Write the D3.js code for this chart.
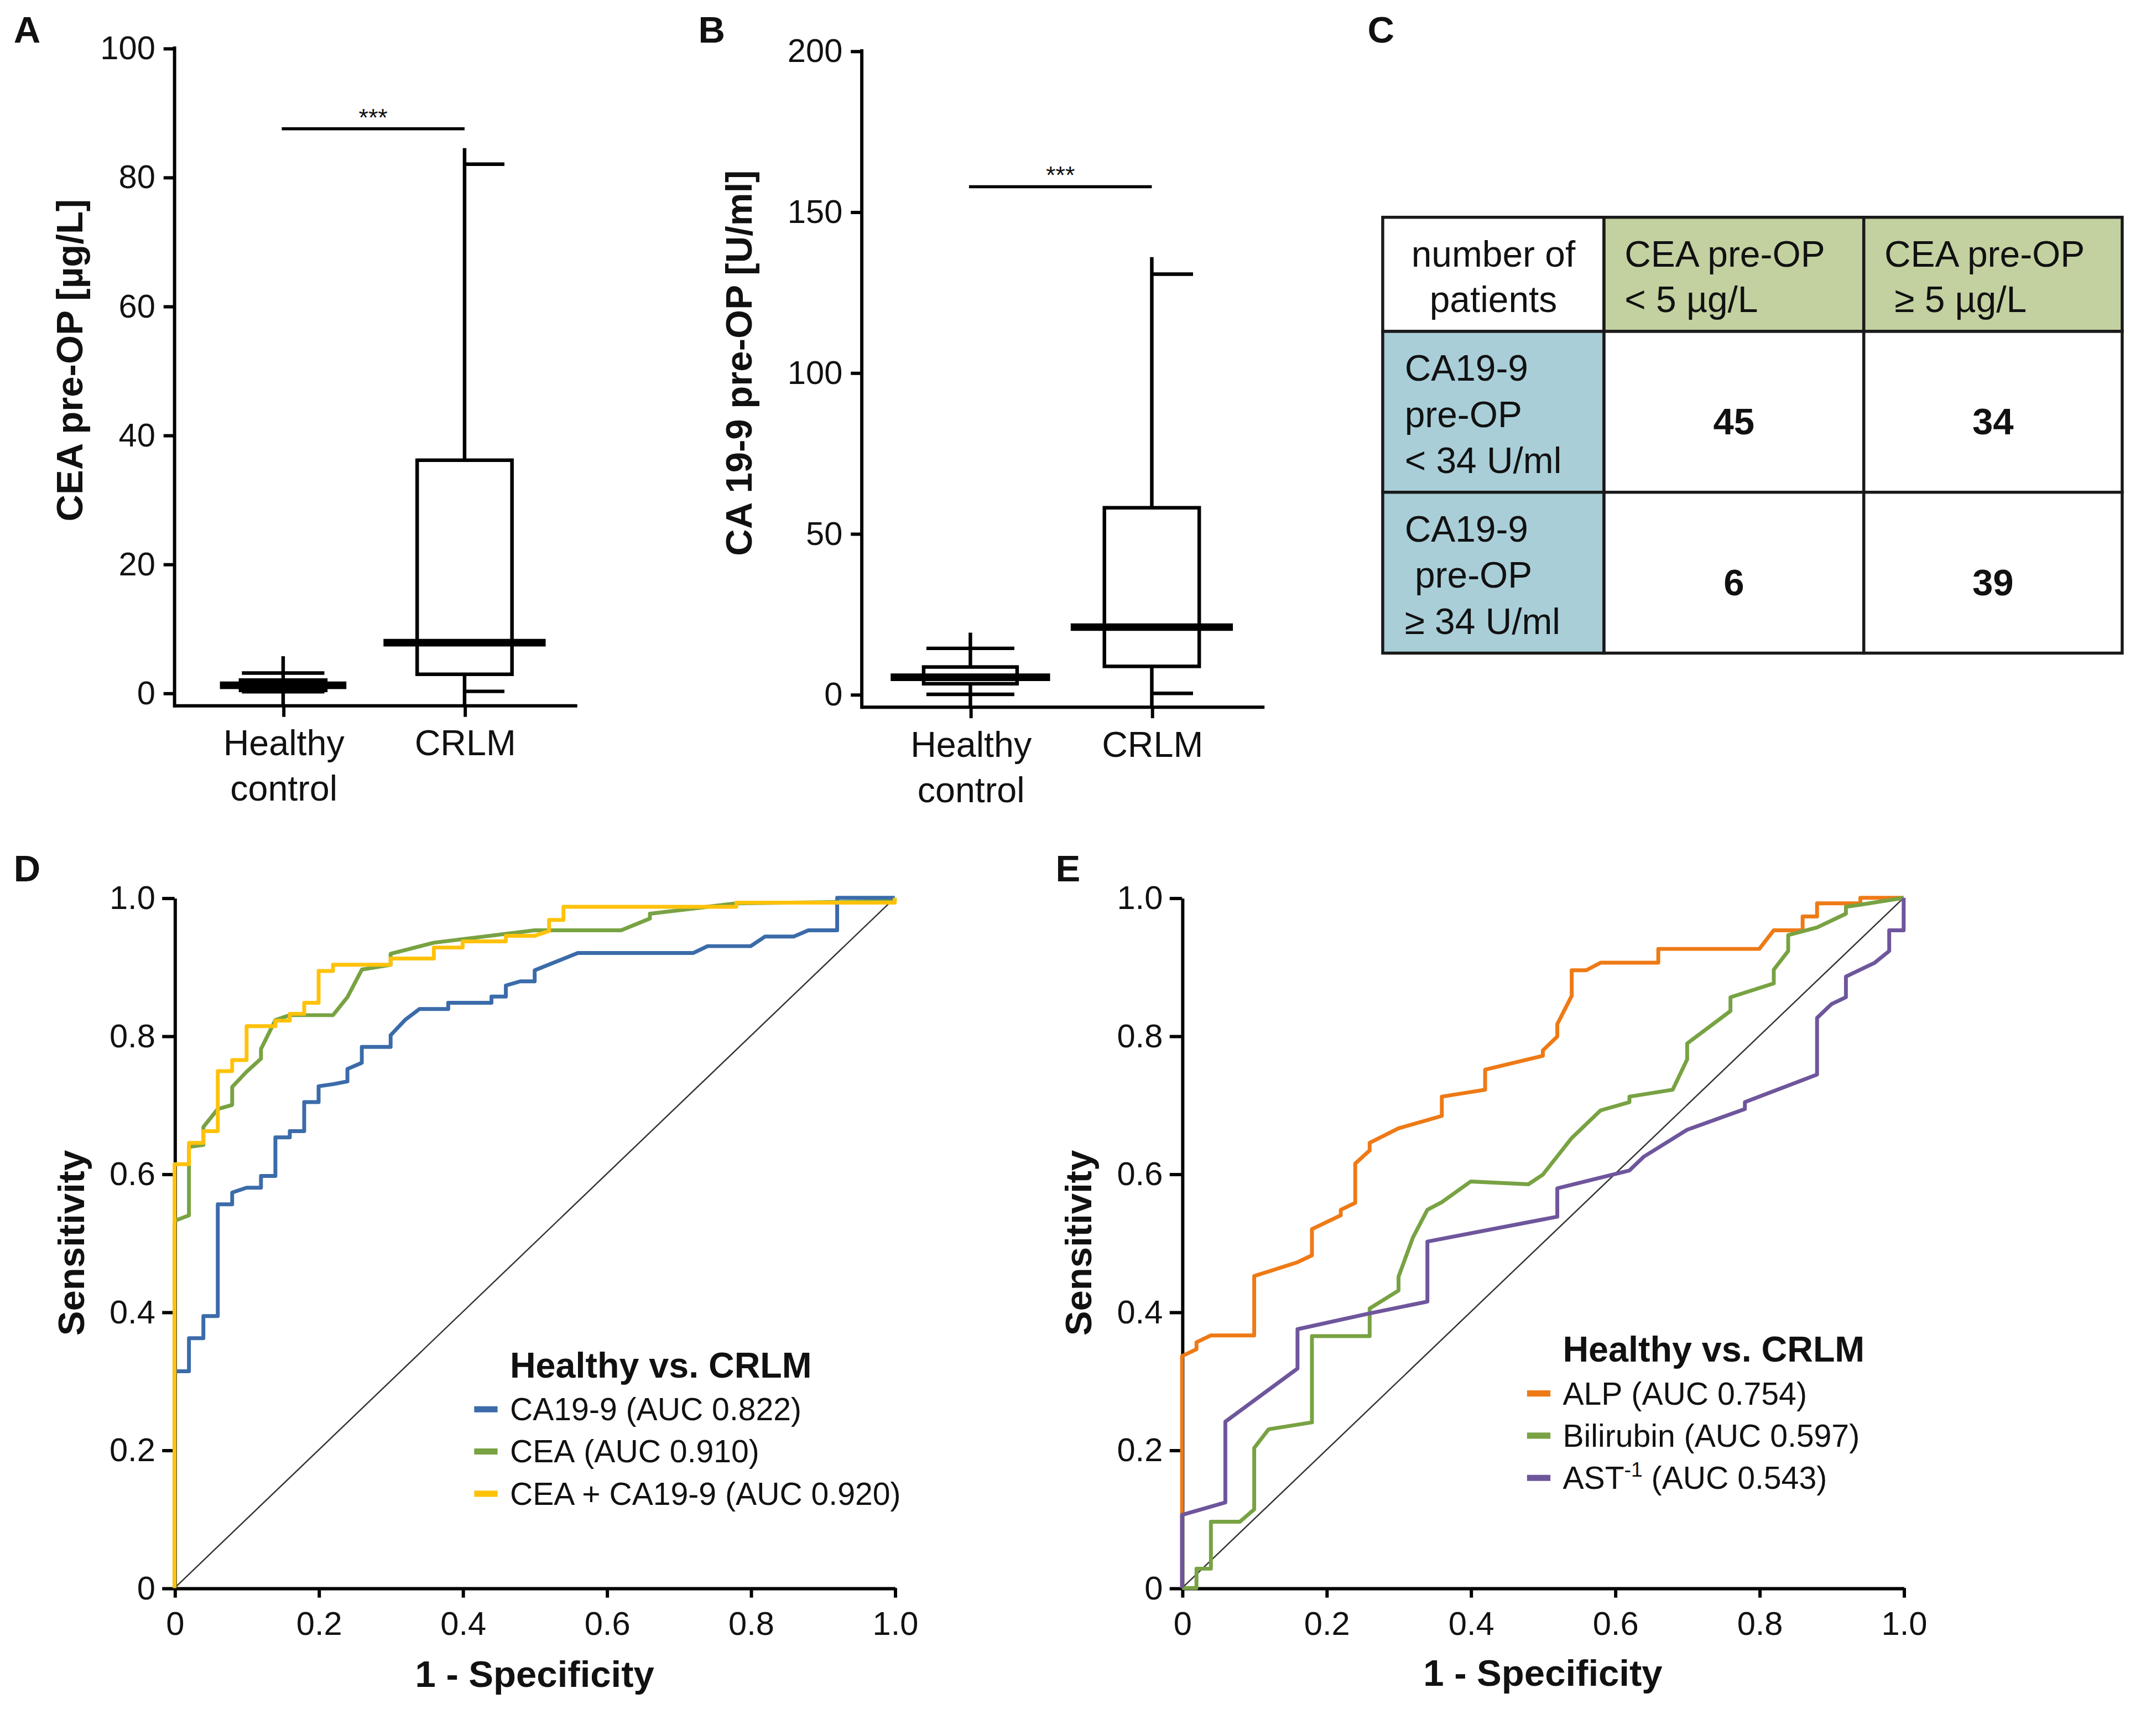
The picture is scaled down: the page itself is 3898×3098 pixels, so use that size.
<!DOCTYPE html>
<html>
<head>
<meta charset="utf-8">
<script src="https://cdn.jsdelivr.net/npm/d3@7"></script>
<style>
  body { margin: 0; background: #fff; }
  text { font-family: 'Liberation Sans', Arial, Helvetica, sans-serif; fill: #111; }
</style>
</head>
<body>
<script>
// ---- data ----
const boxGroups = ['Healthy control', 'CRLM']

// panel A: CEA pre-OP [µg/L]
const ceaMin = [0.2, 0.25]
const ceaQ1 = [0.4, 2.9]
const ceaMedian = [1.2, 7.8]
const ceaQ3 = [2.0, 36.1]
const ceaCap = [3.1, 82]
const ceaTop = [5.7, 84.5]
const ceaSig = 87.5
const ceaTicks = [0, 20, 40, 60, 80, 100]

// panel B: CA 19-9 pre-OP [U/ml]
const caMin = [0, 0.3]
const caQ1 = [3.3, 8.7]
const caMedian = [5.3, 20.9]
const caQ3 = [8.5, 58]
const caCap = [14.3, 130.6]
const caTop = [19.2, 135.9]
const caSig = 157.8
const caTicks = [0, 50, 100, 150, 200]

// panel C: contingency table
const tableColHeaders = [['number of', 'patients'], ['CEA pre-OP', '< 5 µg/L'], ['CEA pre-OP', ' ≥ 5 µg/L']]
const tableRowHeaders = [['CA19-9', 'pre-OP', '< 34 U/ml'], ['CA19-9', ' pre-OP', '≥ 34 U/ml']]
const tableCounts = [[45, 34], [6, 39]]

// panel D: ROC curves (1 - specificity, sensitivity)
const ca199Fpr = [0, 0, 0.02, 0.02, 0.04, 0.04, 0.06, 0.06, 0.08, 0.08, 0.10, 0.12, 0.12, 0.14, 0.14, 0.16, 0.16, 0.18, 0.18, 0.20, 0.20, 0.22, 0.24, 0.24, 0.26, 0.26, 0.30, 0.30, 0.32, 0.34, 0.38, 0.38, 0.44, 0.44, 0.46, 0.46, 0.48, 0.50, 0.50, 0.56, 0.72, 0.74, 0.80, 0.82, 0.86, 0.88, 0.92, 0.92, 1.0]
const ca199Tpr = [0, 0.314, 0.314, 0.362, 0.362, 0.394, 0.394, 0.556, 0.556, 0.573, 0.58, 0.58, 0.597, 0.597, 0.653, 0.653, 0.662, 0.662, 0.704, 0.704, 0.727, 0.73, 0.734, 0.752, 0.761, 0.784, 0.784, 0.801, 0.823, 0.839, 0.839, 0.848, 0.848, 0.857, 0.857, 0.873, 0.879, 0.879, 0.895, 0.92, 0.92, 0.93, 0.93, 0.944, 0.944, 0.953, 0.953, 1.0, 1.0]
const ceaFpr = [0, 0, 0.02, 0.02, 0.04, 0.04, 0.06, 0.08, 0.08, 0.10, 0.12, 0.12, 0.14, 0.16, 0.22, 0.24, 0.26, 0.30, 0.30, 0.36, 0.50, 0.62, 0.66, 0.66, 0.78, 1.0, 1.0]
const ceaTpr = [0, 0.532, 0.54, 0.639, 0.642, 0.668, 0.694, 0.70, 0.726, 0.748, 0.767, 0.781, 0.823, 0.83, 0.83, 0.856, 0.896, 0.903, 0.919, 0.935, 0.953, 0.953, 0.97, 0.977, 0.992, 0.995, 1.0]
const comboFpr = [0, 0, 0.02, 0.02, 0.04, 0.04, 0.06, 0.06, 0.08, 0.08, 0.10, 0.10, 0.14, 0.14, 0.16, 0.16, 0.18, 0.18, 0.20, 0.20, 0.22, 0.22, 0.30, 0.30, 0.36, 0.36, 0.40, 0.40, 0.46, 0.46, 0.50, 0.52, 0.52, 0.54, 0.54, 0.78, 0.78, 1.0, 1.0]
const comboTpr = [0, 0.614, 0.614, 0.645, 0.645, 0.662, 0.662, 0.749, 0.749, 0.765, 0.765, 0.814, 0.814, 0.822, 0.822, 0.832, 0.832, 0.848, 0.848, 0.894, 0.894, 0.903, 0.903, 0.912, 0.912, 0.928, 0.928, 0.937, 0.937, 0.945, 0.945, 0.952, 0.968, 0.968, 0.987, 0.987, 0.993, 0.993, 1.0]
const rocNamesD = ['CA19-9', 'CEA', 'CEA + CA19-9']
const rocAucD = ['0.822', '0.910', '0.920']

// panel E: ROC curves
const alpFpr = [0, 0, 0.02, 0.02, 0.04, 0.10, 0.10, 0.16, 0.18, 0.18, 0.22, 0.22, 0.24, 0.24, 0.26, 0.26, 0.30, 0.36, 0.36, 0.42, 0.42, 0.50, 0.50, 0.52, 0.52, 0.54, 0.54, 0.56, 0.58, 0.66, 0.66, 0.80, 0.82, 0.86, 0.86, 0.88, 0.88, 0.94, 0.94, 1.0]
const alpTpr = [0, 0.336, 0.346, 0.356, 0.366, 0.366, 0.452, 0.472, 0.482, 0.52, 0.54, 0.548, 0.558, 0.615, 0.634, 0.645, 0.666, 0.684, 0.712, 0.722, 0.751, 0.771, 0.779, 0.799, 0.817, 0.858, 0.895, 0.895, 0.906, 0.906, 0.926, 0.926, 0.953, 0.953, 0.973, 0.973, 0.992, 0.992, 1.0, 1.0]
const biliFpr = [0, 0.02, 0.02, 0.04, 0.04, 0.08, 0.10, 0.10, 0.12, 0.18, 0.18, 0.26, 0.26, 0.30, 0.30, 0.32, 0.34, 0.36, 0.40, 0.48, 0.50, 0.54, 0.58, 0.62, 0.62, 0.68, 0.70, 0.70, 0.76, 0.76, 0.82, 0.82, 0.84, 0.84, 0.88, 0.92, 0.92, 0.94, 1.0]
const biliTpr = [0, 0, 0.028, 0.028, 0.096, 0.096, 0.114, 0.203, 0.23, 0.24, 0.365, 0.365, 0.405, 0.431, 0.451, 0.508, 0.548, 0.559, 0.589, 0.585, 0.599, 0.652, 0.692, 0.704, 0.712, 0.722, 0.766, 0.789, 0.836, 0.856, 0.876, 0.896, 0.923, 0.946, 0.957, 0.977, 0.987, 0.99, 1.0]
const astFpr = [0, 0, 0.06, 0.06, 0.16, 0.16, 0.26, 0.34, 0.34, 0.52, 0.52, 0.62, 0.64, 0.70, 0.78, 0.78, 0.88, 0.88, 0.90, 0.92, 0.92, 0.96, 0.98, 0.98, 1.0, 1.0]
const astTpr = [0, 0.106, 0.124, 0.241, 0.318, 0.375, 0.398, 0.415, 0.502, 0.538, 0.579, 0.605, 0.625, 0.664, 0.694, 0.704, 0.744, 0.826, 0.846, 0.856, 0.886, 0.906, 0.923, 0.953, 0.953, 1.0]
const rocNamesE = ['ALP', 'Bilirubin', 'AST']
const rocSupE = ['', '', '-1']
const rocAucE = ['0.754', '0.597', '0.543']

const rocTicks = [0, 0.2, 0.4, 0.6, 0.8, 1.0]

// ---- canvas (layout units ~ 1/2.5 of the output pixels) ----
const W = 1568.6, H = 1246.6
const svg = d3.select('body').append('svg')
  .attr('width', 3898)
  .attr('height', 3098)
  .attr('viewBox', `0 0 ${W} ${H}`)
svg.append('rect').attr('width', W).attr('height', H).attr('fill', '#fff')

const AXIS_W = 2.4

// panel letters
const letters = [['A', 10, 31], ['B', 508, 31], ['C', 995, 31], ['D', 10, 641], ['E', 768, 641]]
svg.selectAll('.letter').data(letters).join('text')
  .attr('class', 'letter')
  .attr('x', d => d[1])
  .attr('y', d => d[2])
  .attr('font-size', 27)
  .attr('font-weight', 'bold')
  .text(d => d[0])

function drawBoxPanel(opt) {
  const g = svg.append('g')
  const y = d3.scaleLinear().domain([0, opt.max]).range([opt.yZero, opt.yTop])
  const x = d3.scalePoint().domain(boxGroups).range(opt.xRange)
  const base = y(opt.floor)

  // y axis
  const ya = g.append('g')
    .attr('transform', 'translate(' + opt.left + ',0)')
    .call(d3.axisLeft(y).tickValues(opt.ticks).tickSize(8).tickPadding(6).tickSizeOuter(0))
  ya.select('.domain').remove()
  ya.selectAll('line').attr('stroke', '#000').attr('stroke-width', AXIS_W)
  ya.selectAll('text').attr('font-size', 24)
  g.append('line')
    .attr('x1', opt.left).attr('x2', opt.left)
    .attr('y1', y(opt.max) - AXIS_W / 2).attr('y2', base + AXIS_W / 2)
    .attr('stroke', '#000').attr('stroke-width', AXIS_W)

  // x axis
  const xa = g.append('g')
    .attr('transform', 'translate(0,' + base + ')')
    .call(d3.axisBottom(x).tickSize(8).tickSizeOuter(0))
  xa.select('.domain').remove()
  xa.selectAll('line').attr('stroke', '#000').attr('stroke-width', AXIS_W)
  xa.selectAll('text')
    .attr('y', 0).attr('dy', null)
    .attr('font-size', 26)
    .text(null)
    .each(function (d) {
      d.split(' ').forEach((w, i) => {
        d3.select(this).append('tspan')
          .attr('x', 0)
          .attr('dy', i === 0 ? 36 : 33)
          .text(w)
      })
    })
  g.append('line')
    .attr('x1', opt.left).attr('x2', opt.right)
    .attr('y1', base).attr('y2', base)
    .attr('stroke', '#000').attr('stroke-width', AXIS_W)

  // boxes
  boxGroups.forEach((grp, i) => {
    const cx = x(grp)
    const st = opt.style[i]
    g.append('line')
      .attr('x1', cx).attr('x2', cx)
      .attr('y1', y(opt.top[i])).attr('y2', base)
      .attr('stroke', '#000').attr('stroke-width', 2.6)
    g.append('rect')
      .attr('x', cx - st.box).attr('width', st.box * 2)
      .attr('y', y(opt.q3[i])).attr('height', y(opt.q1[i]) - y(opt.q3[i]))
      .attr('fill', '#fff').attr('stroke', '#000').attr('stroke-width', 2.6)
    ;[opt.cap[i], opt.min[i]].forEach(v => {
      g.append('line')
        .attr('x1', cx + st.capL).attr('x2', cx + st.capR)
        .attr('y1', y(v)).attr('y2', y(v))
        .attr('stroke', '#000').attr('stroke-width', 2.6)
    })
    g.append('line')
      .attr('x1', cx - st.med).attr('x2', cx + st.med)
      .attr('y1', y(opt.median[i])).attr('y2', y(opt.median[i]))
      .attr('stroke', '#000').attr('stroke-width', 5.5)
  })

  // significance bar
  const sx0 = x(boxGroups[0]) - 1, sx1 = x(boxGroups[1])
  g.append('line')
    .attr('x1', sx0).attr('x2', sx1)
    .attr('y1', y(opt.sig)).attr('y2', y(opt.sig))
    .attr('stroke', '#000').attr('stroke-width', 2.2)
  g.append('text')
    .attr('x', (sx0 + sx1) / 2).attr('y', y(opt.sig) - 2)
    .attr('text-anchor', 'middle')
    .attr('font-size', 18)
    .text('***')

  // y label
  g.append('text')
    .attr('transform', 'translate(' + opt.labelX + ',' + opt.labelY + ') rotate(-90)')
    .attr('text-anchor', 'middle')
    .attr('font-size', 27)
    .attr('font-weight', 'bold')
    .text(opt.label)
}

drawBoxPanel({
  left: 127, right: 420, yTop: 35, yZero: 504, max: 100, floor: -2,
  xRange: [206, 338], ticks: ceaTicks,
  min: ceaMin, q1: ceaQ1, median: ceaMedian, q3: ceaQ3, cap: ceaCap, top: ceaTop, sig: ceaSig,
  label: 'CEA pre-OP [µg/L]', labelX: 60, labelY: 262,
  style: [{ box: 31, med: 46, capL: -30, capR: 30 }, { box: 34.5, med: 59, capL: 0, capR: 29 }]
})

drawBoxPanel({
  left: 627, right: 920, yTop: 37, yZero: 505, max: 200, floor: -4,
  xRange: [706, 838], ticks: caTicks,
  min: caMin, q1: caQ1, median: caMedian, q3: caQ3, cap: caCap, top: caTop, sig: caSig,
  label: 'CA 19-9 pre-OP [U/ml]', labelX: 547, labelY: 264,
  style: [{ box: 34, med: 58, capL: -32, capR: 32 }, { box: 34.5, med: 59, capL: 0, capR: 30 }]
})

// ---- panel C: table ----
function drawTable() {
  const g = svg.append('g')
  const colX = d3.cumsum([1006, 161, 189, 188])
  const rowY = d3.cumsum([158, 83, 117, 117])
  const green = '#c3d0a0', blue = '#a9ced8'

  // cells
  for (let r = 0; r < 3; r++) {
    for (let c = 0; c < 3; c++) {
      let fill = '#fff'
      if (r === 0 && c > 0) fill = green
      if (r > 0 && c === 0) fill = blue
      g.append('rect')
        .attr('x', colX[c]).attr('y', rowY[r])
        .attr('width', colX[c + 1] - colX[c]).attr('height', rowY[r + 1] - rowY[r])
        .attr('fill', fill)
        .attr('stroke', '#1a1a1a').attr('stroke-width', 2.2)
    }
  }

  // header row
  tableColHeaders.forEach((lines, c) => {
    const t = g.append('text')
      .attr('font-size', 26.5)
      .style('white-space', 'pre')
      .attr('text-anchor', c === 0 ? 'middle' : 'start')
    lines.forEach((ln, i) => {
      t.append('tspan')
        .attr('x', c === 0 ? (colX[0] + colX[1]) / 2 : colX[c] + 15)
        .attr('y', rowY[0] + 36 + i * 33)
        .text(ln)
    })
  })

  // row headers
  tableRowHeaders.forEach((lines, r) => {
    const t = g.append('text').attr('font-size', 26.5).style('white-space', 'pre')
    lines.forEach((ln, i) => {
      t.append('tspan')
        .attr('x', colX[0] + 16)
        .attr('y', rowY[r + 1] + 36 + i * 33.5)
        .text(ln)
    })
  })

  // counts
  tableCounts.forEach((row, r) => {
    row.forEach((v, c) => {
      g.append('text')
        .attr('x', (colX[c + 1] + colX[c + 2]) / 2)
        .attr('y', rowY[r + 1] + 75)
        .attr('text-anchor', 'middle')
        .attr('font-size', 27)
        .attr('font-weight', 'bold')
        .text(v)
    })
  })
}
drawTable()

// ---- panels D and E: ROC ----
function drawRoc(opt) {
  const g = svg.append('g')
  const x = d3.scaleLinear().domain([0, 1]).range([opt.left, opt.right])
  const y = d3.scaleLinear().domain([0, 1]).range([opt.bottom, opt.top])
  const fmt = d => d === 0 ? '0' : d.toFixed(1)

  const ya = g.append('g')
    .attr('transform', 'translate(' + opt.left + ',0)')
    .call(d3.axisLeft(y).tickValues(rocTicks).tickFormat(fmt).tickSize(9).tickPadding(5).tickSizeOuter(0))
  const xa = g.append('g')
    .attr('transform', 'translate(0,' + opt.bottom + ')')
    .call(d3.axisBottom(x).tickValues(rocTicks).tickFormat(fmt).tickSize(7).tickPadding(10).tickSizeOuter(0))
  ;[ya, xa].forEach(a => {
    a.select('.domain').attr('stroke', '#000').attr('stroke-width', AXIS_W)
    a.selectAll('line').attr('stroke', '#000').attr('stroke-width', AXIS_W)
    a.selectAll('text').attr('font-size', 24)
  })

  // chance line
  g.append('line')
    .attr('x1', x(0)).attr('y1', y(0))
    .attr('x2', x(1)).attr('y2', y(1))
    .attr('stroke', '#333').attr('stroke-width', 1)

  const line = d3.line().x(d => x(d[0])).y(d => y(d[1]))
  opt.drawOrder.forEach(i => {
    const s = opt.series[i]
    g.append('path')
      .datum(d3.zip(s.fpr, s.tpr))
      .attr('fill', 'none')
      .attr('stroke', s.color)
      .attr('stroke-width', 2.8)
      .attr('stroke-linejoin', 'round')
      .attr('d', line)
  })

  // axis titles
  g.append('text')
    .attr('transform', 'translate(' + opt.yLabelX + ',' + (opt.top + opt.bottom) / 2 + ') rotate(-90)')
    .attr('text-anchor', 'middle')
    .attr('font-size', 27)
    .attr('font-weight', 'bold')
    .text('Sensitivity')
  g.append('text')
    .attr('x', (opt.left + opt.right) / 2)
    .attr('y', opt.xLabelY)
    .attr('text-anchor', 'middle')
    .attr('font-size', 27)
    .attr('font-weight', 'bold')
    .text('1 - Specificity')

  // legend
  const lg = g.append('g').attr('transform', 'translate(' + opt.legendX + ',' + opt.legendY + ')')
  lg.append('text')
    .attr('x', 0).attr('y', 0)
    .attr('font-size', 26)
    .attr('font-weight', 'bold')
    .text('Healthy vs. CRLM')
  opt.series.forEach((s, i) => {
    const yy = 31 + i * 30.7
    lg.append('line')
      .attr('x1', -26).attr('x2', -9)
      .attr('y1', yy - 8).attr('y2', yy - 8)
      .attr('stroke', s.color).attr('stroke-width', 4.5)
    const t = lg.append('text').attr('x', 0).attr('y', yy).attr('font-size', 23)
    t.append('tspan').text(s.name)
    if (s.sup) {
      t.append('tspan').attr('font-size', 15).attr('dy', -9).text(s.sup)
      t.append('tspan').attr('dy', 9).text(' (AUC ' + s.auc + ')')
    } else {
      t.append('tspan').text(' (AUC ' + s.auc + ')')
    }
  })
}

drawRoc({
  left: 127, right: 651, top: 653, bottom: 1155,
  yLabelX: 61, xLabelY: 1227, legendX: 371, legendY: 1002,
  drawOrder: [0, 1, 2],
  series: [
    { name: rocNamesD[0], auc: rocAucD[0], color: '#3b6ba9', fpr: ca199Fpr, tpr: ca199Tpr },
    { name: rocNamesD[1], auc: rocAucD[1], color: '#78a243', fpr: ceaFpr, tpr: ceaTpr },
    { name: rocNamesD[2], auc: rocAucD[2], color: '#ffc20a', fpr: comboFpr, tpr: comboTpr }
  ]
})

drawRoc({
  left: 860, right: 1385, top: 653, bottom: 1155,
  yLabelX: 794, xLabelY: 1226, legendX: 1137, legendY: 990.5,
  drawOrder: [0, 1, 2],
  series: [
    { name: rocNamesE[0], sup: rocSupE[0], auc: rocAucE[0], color: '#ee7a16', fpr: alpFpr, tpr: alpTpr },
    { name: rocNamesE[1], sup: rocSupE[1], auc: rocAucE[1], color: '#78a243', fpr: biliFpr, tpr: biliTpr },
    { name: rocNamesE[2], sup: rocSupE[2], auc: rocAucE[2], color: '#6e569c', fpr: astFpr, tpr: astTpr }
  ]
})
</script>
</body>
</html>
